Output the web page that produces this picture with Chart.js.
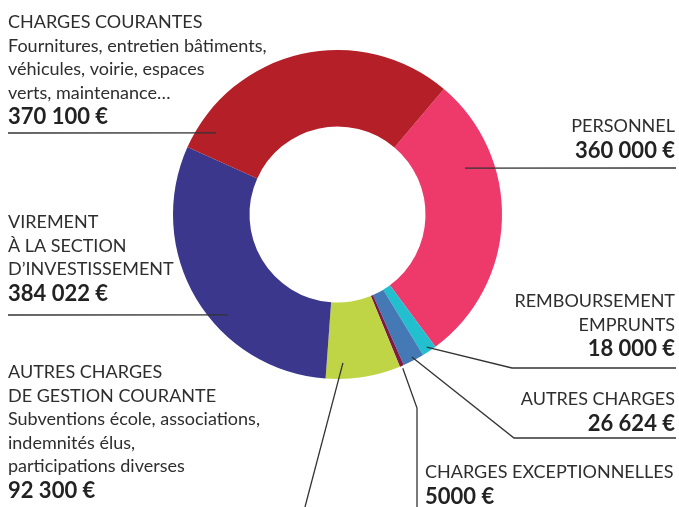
<!DOCTYPE html>
<html lang="fr">
<head>
<meta charset="utf-8">
<script src="https://cdn.jsdelivr.net/npm/chart.js@4/dist/chart.umd.min.js"></script>
<style>
  html, body { margin: 0; padding: 0; background: #fff; }
  #wrap { position: relative; width: 679px; height: 507px; }
</style>
</head>
<body>
<div id="wrap"><canvas id="chart" width="679" height="507"></canvas></div>
<script>
// --- DONNÉES ---
const categories = [
  'PERSONNEL',
  'REMBOURSEMENT EMPRUNTS',
  'AUTRES CHARGES',
  'CHARGES EXCEPTIONNELLES',
  'AUTRES CHARGES DE GESTION COURANTE',
  'VIREMENT À LA SECTION D’INVESTISSEMENT',
  'CHARGES COURANTES'
]
const amounts = [360000, 18000, 26624, 5000, 92300, 384022, 370100]
const amountLabels = ['360 000 €', '18 000 €', '26 624 €', '5000 €', '92 300 €', '384 022 €', '370 100 €']
const sliceColors = ['#ee3a6b', '#22bfcf', '#4479b5', '#7c1b45', '#bfd546', '#3a378c', '#b41f28']

// --- MISE EN PAGE DES ÉTIQUETTES ---
// titre (majuscules), détail (texte courant), montant en gras
const labelLayout = [
  { title: ['PERSONNEL'], detail: [], x: 675, y: 132, align: 'right',
    anchor: [70, 0.825], path: [[676, 168]] },
  { title: ['REMBOURSEMENT', 'EMPRUNTS'], detail: [], x: 675, y: 307, align: 'right',
    anchor: [null, 0.972], path: [[512, 368], [676, 368]] },
  { title: ['AUTRES CHARGES'], detail: [], x: 675, y: 405, align: 'right',
    anchor: [null, 0.977], path: [[514, 438], [676, 438]] },
  { title: ['CHARGES EXCEPTIONNELLES'], detail: [], x: 425, y: 478, align: 'left',
    anchor: [null, 1.015], path: [[417, 408], [417, 507]] },
  { title: ['AUTRES CHARGES', 'DE GESTION COURANTE'],
    detail: ['Subventions école, associations,', 'indemnités élus,', 'participations diverses'],
    x: 8, y: 378, align: 'left', anchor: [177.9, 0.903], path: [[305, 507]] },
  { title: ['VIREMENT', 'À LA SECTION', 'D’INVESTISSEMENT'], detail: [], x: 8, y: 228, align: 'left',
    anchor: [227.5, 0.903], path: [[8, 315]] },
  { title: ['CHARGES COURANTES'],
    detail: ['Fournitures, entretien bâtiments,', 'véhicules, voirie, espaces', 'verts, maintenance…'],
    x: 8, y: 28, align: 'left', anchor: [303.9, 0.889], path: [[8, 133]] }
]

const FONT = "Lato, 'Open Sans', sans-serif"

const calloutPlugin = {
  id: 'callouts',
  afterDatasetsDraw(chart) {
    const ctx = chart.ctx
    const arcs = chart.getDatasetMeta(0).data
    ctx.save()
    labelLayout.forEach((lab, i) => {
      const arc = arcs[i]
      const p = arc.getProps(['x', 'y', 'startAngle', 'endAngle', 'outerRadius'], true)
      // angle depuis le haut, sens horaire -> angle canvas
      const a = lab.anchor[0] === null
        ? (p.startAngle + p.endAngle) / 2
        : (lab.anchor[0] - 90) * Math.PI / 180
      const r = p.outerRadius * lab.anchor[1]
      const ax = p.x + r * Math.cos(a)
      const ay = p.y + r * Math.sin(a)

      // trait de rappel
      ctx.strokeStyle = '#333'
      ctx.lineWidth = 1.3
      ctx.beginPath()
      ctx.moveTo(ax, ay)
      lab.path.forEach(pt => ctx.lineTo(pt[0], pt[1]))
      ctx.stroke()

      // texte
      ctx.textAlign = lab.align
      ctx.textBaseline = 'alphabetic'
      let y = lab.y
      ctx.fillStyle = '#2e2e2e'
      ctx.font = '18px ' + FONT
      lab.title.concat(lab.detail).forEach(line => {
        ctx.fillText(line, lab.x, y)
        y += 23.5
      })
      ctx.fillStyle = '#222'
      ctx.font = 'bold 22px ' + FONT
      ctx.fillText(amountLabels[i], lab.x, y + 2)
    })
    ctx.restore()
  }
}

new Chart(document.getElementById('chart'), {
  type: 'doughnut',
  data: {
    labels: categories,
    datasets: [{
      data: amounts,
      backgroundColor: sliceColors,
      borderWidth: 0,
      hoverBorderWidth: 0,
      hoverOffset: 0,
      offset: 0
    }]
  },
  options: {
    responsive: false,
    animation: false,
    rotation: 40.3,
    cutout: '53.5%',
    layout: { padding: { top: 50, bottom: 128, left: 0, right: 4 } },
    plugins: {
      legend: { display: false },
      tooltip: { enabled: false }
    }
  },
  plugins: [calloutPlugin]
})
</script>
</body>
</html>
